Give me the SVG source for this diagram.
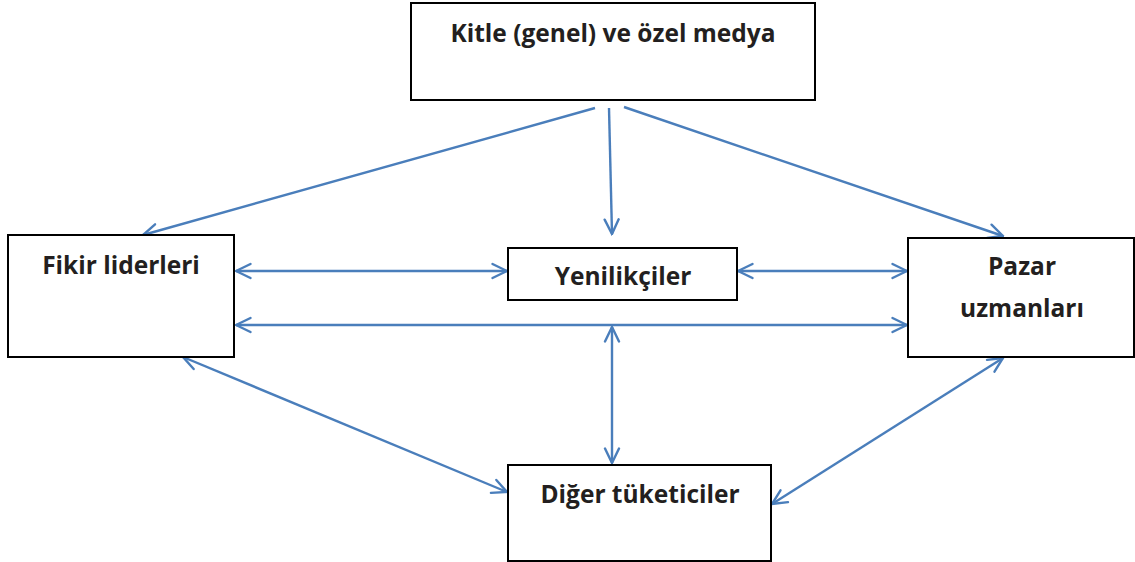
<svg xmlns="http://www.w3.org/2000/svg" width="1135" height="562" viewBox="0 0 1135 562">
  <style>
    .box { fill: #ffffff; stroke: #000000; stroke-width: 2; }
    .lbl { font-family: "Open Sans", "Liberation Sans", sans-serif; font-weight: bold; font-size: 24.5px; fill: #231f20; text-anchor: middle; }
    .link { fill: none; stroke: #4a7ebb; stroke-width: 2.4; }
    .one { marker-end: url(#arrow); }
    .two { marker-start: url(#arrow); marker-end: url(#arrow); }
  </style>
  <defs>
    <marker id="arrow" viewBox="0 0 18 18" refX="16.5" refY="9" markerWidth="18" markerHeight="18" markerUnits="userSpaceOnUse" orient="auto-start-reverse">
      <path d="M2,2 L16.5,9 L2,16" fill="none" stroke="#4a7ebb" stroke-width="2.4" stroke-linecap="round"/>
    </marker>
  </defs>
  <rect width="1135" height="562" fill="#ffffff"/>

  <g id="connectors">
    <line class="link one" x1="595" y1="108" x2="143" y2="235"/>
    <line class="link one" x1="609" y1="108" x2="612" y2="234"/>
    <line class="link one" x1="624" y1="107" x2="1003" y2="236"/>
    <line class="link two" x1="236" y1="271" x2="507" y2="271"/>
    <line class="link two" x1="738" y1="271" x2="907" y2="271"/>
    <line class="link two" x1="236" y1="325" x2="907" y2="325"/>
    <line class="link two" x1="612" y1="327" x2="612" y2="463"/>
    <line class="link two" x1="183" y1="357" x2="507" y2="492"/>
    <line class="link two" x1="1003" y1="358" x2="772" y2="504"/>
  </g>

  <g id="media">
    <rect class="box" x="411" y="3" width="404" height="97"/>
    <text class="lbl" x="613" y="42">Kitle (genel) ve özel medya</text>
  </g>

  <g id="opinion-leaders">
    <rect class="box" x="8" y="235" width="226" height="122"/>
    <text class="lbl" x="121" y="274">Fikir liderleri</text>
  </g>

  <g id="innovators">
    <rect class="box" x="508" y="248" width="229" height="52"/>
    <text class="lbl" x="623" y="285">Yenilikçiler</text>
  </g>

  <g id="market-experts">
    <rect class="box" x="908" y="238" width="226" height="119"/>
    <text class="lbl" x="1022" y="275">Pazar</text>
    <text class="lbl" x="1022" y="317">uzmanları</text>
  </g>

  <g id="other-consumers">
    <rect class="box" x="508" y="465" width="263" height="96"/>
    <text class="lbl" x="640" y="503">Diğer tüketiciler</text>
  </g>
</svg>
